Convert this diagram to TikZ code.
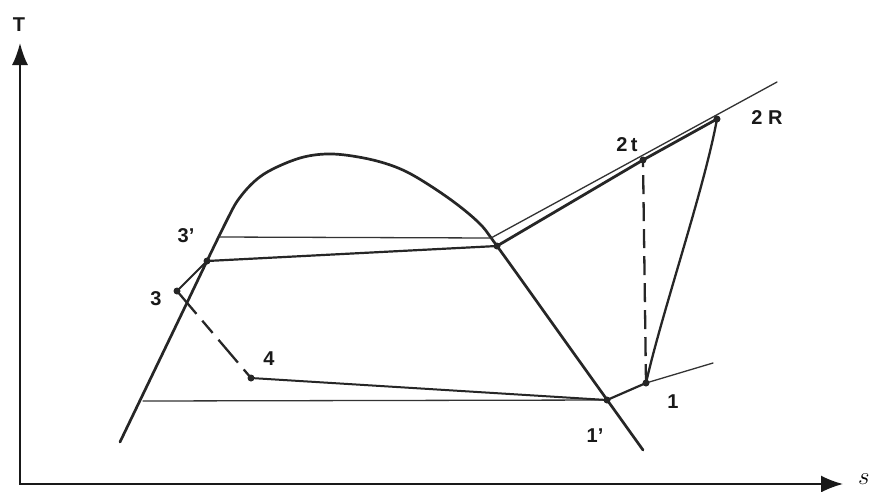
\documentclass[tikz,border=0pt]{standalone}
\usepackage{fontspec}
\setmainfont{Liberation Sans}
\usetikzlibrary{arrows.meta}
\begin{document}
\begin{tikzpicture}[x=1pt,y=-1pt,
  heavy/.style={line width=2.7pt, line cap=round, line join=round, draw=black!85},
  light/.style={line width=1.3pt, line cap=round, draw=black!80},
  dashline/.style={line width=2.3pt, draw=black!85},
  dot/.style={circle, fill=black!85, inner sep=0pt, minimum size=7pt},
  lbl/.style={font=\fontsize{20}{20}\selectfont\bfseries, inner sep=0pt, text=black!90},
  axis/.style={line width=1.8pt, draw=black!90}
]
\useasboundingbox (0,0) rectangle (878,491);

% axes
\coordinate (O) at (20,484);
\coordinate (Ytip) at (20,43);
\coordinate (Xtip) at (843,484);
\draw[axis, {Latex[length=22pt,width=16pt]}-{Latex[length=22pt,width=17pt]}] (Ytip) -- (O) -- (Xtip);
\node[lbl] (T) at (19,25) {T};
\node[inner sep=0pt, anchor=west, font=\fontsize{26}{26}\selectfont] (S) at (858,479) {$s$};

% key points
\coordinate (p3) at (177,291);
\coordinate (p3p) at (207,261);
\coordinate (p4) at (251,378);
\coordinate (p1) at (646,383);
\coordinate (p1p) at (607,400);
\coordinate (p2t) at (643,160);
\coordinate (p2R) at (717,119);
\coordinate (pc) at (497,246);
\coordinate (h1L) at (219,237);
\coordinate (h1R) at (491,238);
\coordinate (h2L) at (143,401);
\coordinate (sEnd) at (713,363);
\coordinate (tEnd) at (777,82);

% saturation dome
\draw[heavy] plot[smooth, tension=0.55] coordinates {(120,442) (172,334) (224,226) (241,196) (264,174) (300,158) (333,154) (373,160) (407,172) (447,197) (478,222) (497,246) (570,348) (643,450)};

% thin lines
\draw[light] (h1L) -- (h1R);
\draw[light] (h2L) -- (p1p);
\draw[light] (h1R) -- (tEnd);
\draw[light] (p1) -- (sEnd);

% cycle lines
\draw[heavy, line width=2.2pt] (p3p) -- (pc);
\draw[heavy, line width=2.8pt] (pc) -- (p2t) -- (p2R);
\draw[heavy, line width=2pt] (p3) -- (p3p);
\draw[heavy, line width=2pt] (p4) -- (p1p);
\draw[heavy, line width=2.2pt] (p1p) -- (p1);
\draw[heavy, line width=2.3pt] (p1) .. controls (662,312) and (704,190) .. (p2R);
\draw[dashline, dash pattern=on 30pt off 9pt on 16pt off 9pt] (p3) -- (p4);
\draw[dashline, dash pattern=on 19pt off 8pt] (p1) -- (p2t);

% dots
\foreach \p in {p3,p3p,p4,p1,p1p,p2t,p2R,pc} \node[dot] at (\p) {};

% labels
\node[lbl] (l3p) at (186,236) {3'};
\node[lbl] (l3) at (156,299) {3};
\node[lbl] (l4) at (269,359) {4};
\node[lbl] (l1) at (673,402) {1};
\node[lbl] (l1p) at (595,436) {1'};
\node[lbl] (l2t) at (627,145) {2\,t};
\node[lbl] (l2R) at (767,118) {2 R};
\end{tikzpicture}
\end{document}
